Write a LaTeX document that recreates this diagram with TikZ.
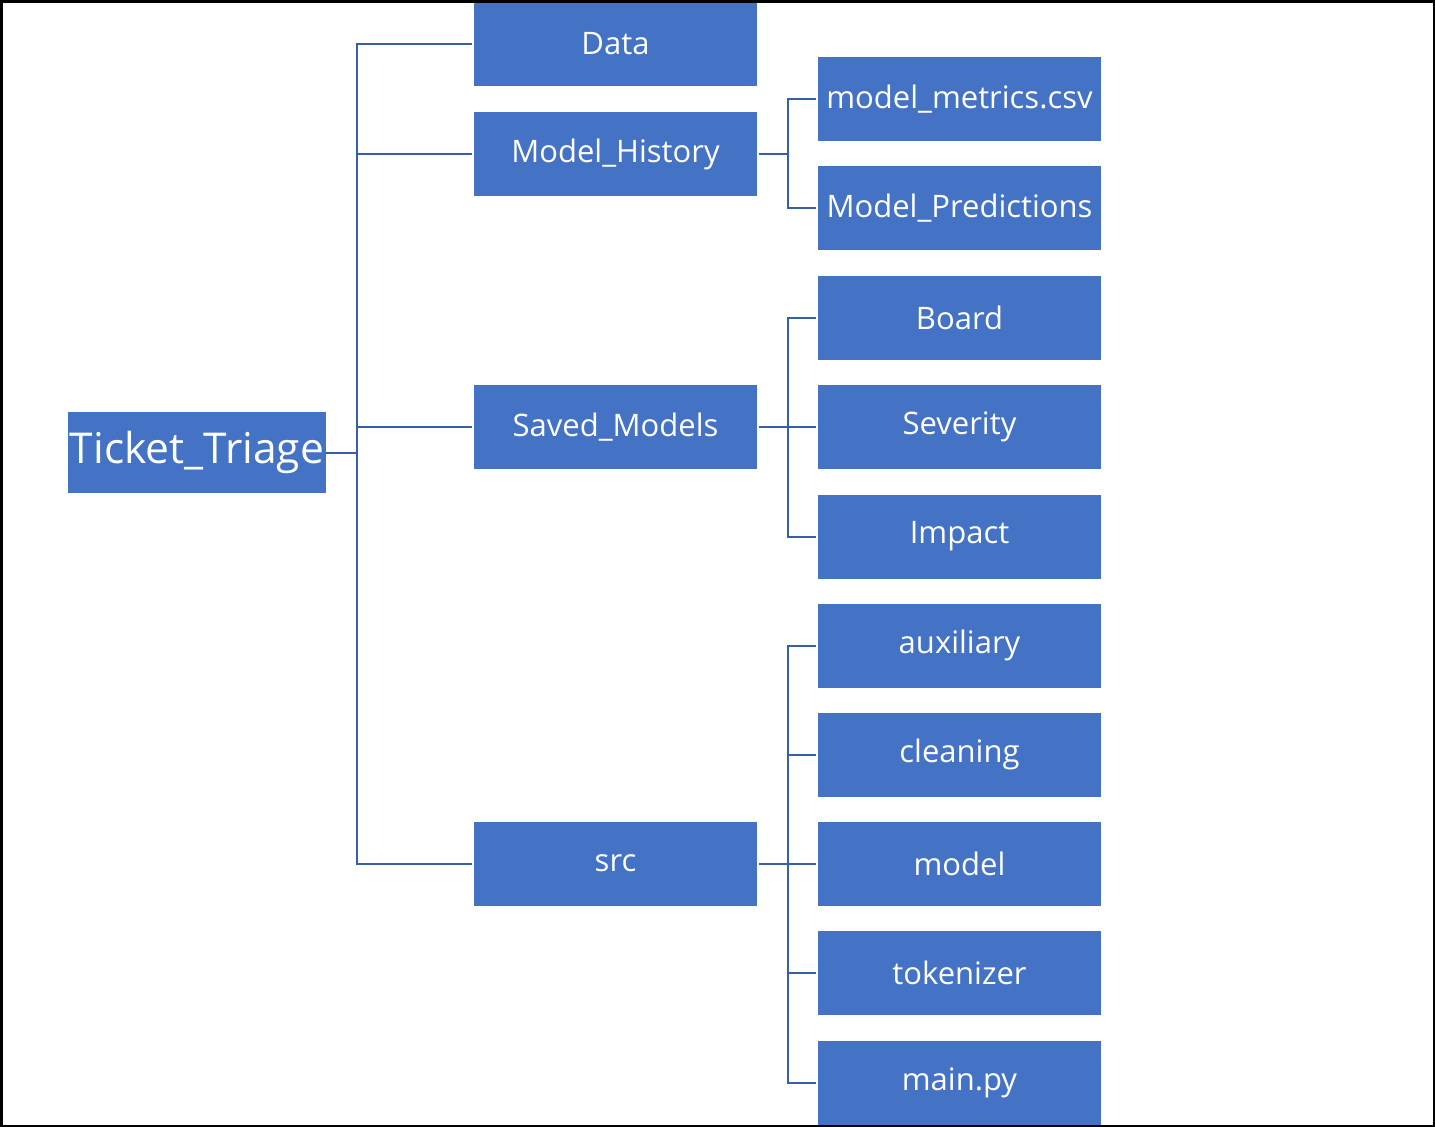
\documentclass[tikz,border=0pt]{standalone}
\usepackage{fontspec}
\setmainfont{Open Sans}
\definecolor{boxblue}{HTML}{4472C4}
\definecolor{linkblue}{HTML}{3560A8}
\begin{document}
\begin{tikzpicture}[x=1pt,y=-1pt,
  folder/.style={fill=boxblue,text=white,minimum width=283pt,minimum height=84pt,inner sep=0pt,font=\fontsize{31}{36}\selectfont},
  rootbox/.style={fill=boxblue,text=white,minimum width=258pt,minimum height=81pt,inner sep=0pt,font=\fontsize{42.5}{48}\selectfont},
  conn/.style={draw=linkblue,line width=2pt}]
\useasboundingbox (0,0) rectangle (1435,1127);
\fill[white] (0,0) rectangle (1435,1127);
% root
\node[rootbox] (tt) at (197,452.5) {Ticket\_Triage};
% level 1
\node[folder] (data) at (615.5,44) {Data};
\node[folder] (mh) at (615.5,154) {Model\_History};
\node[folder] (sm) at (615.5,427) {Saved\_Models};
\node[folder] (src) at (615.5,863.5) {src};
% level 2
\node[folder] (mm) at (959.5,99) {model\_metrics.csv};
\node[folder] (mp) at (959.5,208) {Model\_Predictions};
\node[folder] (board) at (959.5,317.5) {Board};
\node[folder] (sev) at (959.5,427) {Severity};
\node[folder] (imp) at (959.5,536.5) {Impact};
\node[folder] (aux) at (959.5,645.5) {auxiliary};
\node[folder] (cln) at (959.5,754.5) {cleaning};
\node[folder] (mdl) at (959.5,863.5) {model};
\node[folder] (tok) at (959.5,973) {tokenizer};
\node[folder] (mainpy) at (959.5,1082.5) {main.py};
% junctions
\coordinate (jA) at (357,452.5);
\coordinate (jB) at (788,154);
\coordinate (jC) at (788,427);
\coordinate (jD) at (788,863.5);
% root connectors
\draw[conn] (tt.east) -- (jA);
\foreach \n in {data,mh,sm,src} \draw[conn,shorten <=2pt] (\n.west) -| (jA);
% Model_History
\draw[conn,shorten <=2pt] (mh.east) -- (jB);
\foreach \n in {mm,mp} \draw[conn,shorten <=2pt] (\n.west) -| (jB);
% Saved_Models
\draw[conn,shorten <=2pt] (sm.east) -- (jC);
\foreach \n in {board,sev,imp} \draw[conn,shorten <=2pt] (\n.west) -| (jC);
% src
\draw[conn,shorten <=2pt] (src.east) -- (jD);
\foreach \n in {aux,cln,mdl,tok,mainpy} \draw[conn,shorten <=2pt] (\n.west) -| (jD);
% frame
\draw[black,line width=2.5pt] (1.25,1.25) rectangle (1433.75,1125.75);
\end{tikzpicture}
\end{document}
